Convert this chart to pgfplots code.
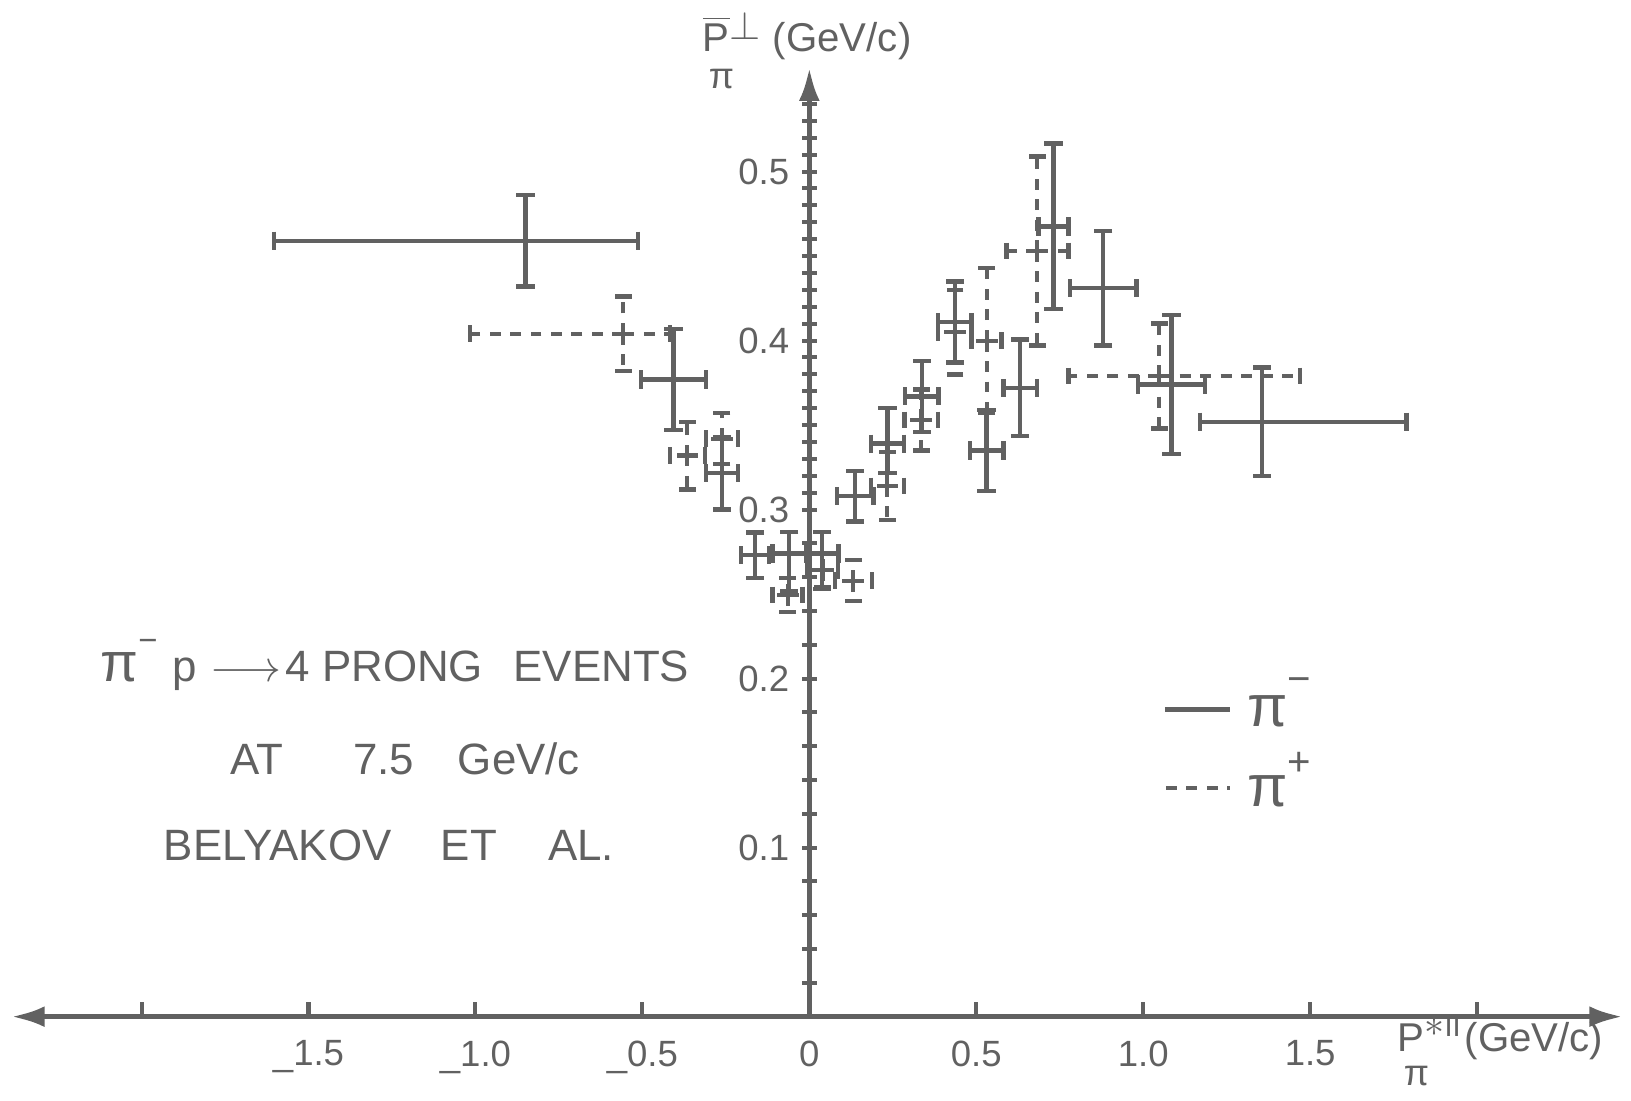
\documentclass[border=0pt]{standalone}
\usepackage{fontspec}
\setmainfont{Liberation Sans}
\usepackage{pgfplots}
\pgfplotsset{compat=1.18}
\usepackage{pgfplotstable}
\usetikzlibrary{arrows.meta}
\definecolor{ink}{gray}{0.38}

% pi^- (solid crosses)
\pgfplotstableread{
x      y      xm     xp     ym     yp
-0.850 0.459  0.754  0.336  0.027  0.027
-0.407 0.377  0.097  0.097  0.030  0.030
-0.262 0.3215 0.048  0.048  0.0215 0.0215
-0.163 0.273  0.042  0.042  0.0135 0.0135
-0.060 0.274  0.050  0.050  0.0225 0.0126
 0.037 0.274  0.045  0.050  0.0211 0.0126
 0.137 0.308  0.055  0.055  0.015  0.015
 0.234 0.339  0.050  0.050  0.0175 0.021
 0.337 0.367  0.050  0.050  0.021  0.021
 0.436 0.411  0.050  0.050  0.024  0.024
 0.531 0.335  0.050  0.050  0.024  0.024
 0.631 0.372  0.050  0.050  0.0286 0.0286
 0.731 0.4675 0.045  0.045  0.049  0.049
 0.880 0.431  0.100  0.100  0.034  0.034
 1.085 0.374  0.100  0.100  0.041  0.041
 1.355 0.352  0.185  0.434  0.032  0.032
}\pineg

% pi^+ (dashed crosses)
\pgfplotstableread{
x      y      xm     xp     ym     yp
-0.557 0.404  0.460  0.140  0.022  0.022
-0.365 0.332  0.053  0.053  0.020  0.020
-0.262 0.342  0.048  0.048  0.015  0.015
-0.065 0.2495 0.045  0.045  0.010  0.010
 0.040 0.264  0.045  0.045  0.010  0.010
 0.132 0.258  0.055  0.055  0.012  0.012
 0.234 0.314  0.050  0.050  0.020  0.020
 0.335 0.353  0.050  0.050  0.018  0.018
 0.436 0.405  0.050  0.050  0.025  0.025
 0.531 0.400  0.045  0.045  0.043  0.043
 0.683 0.453  0.092  0.093  0.056  0.056
 1.048 0.379  0.272  0.421  0.031  0.031
}\pipos

\pgfplotsset{
  capv/.style={ink, only marks, mark=|, mark size=2.5pt, mark options={line width=1.2pt, solid}},
  caph/.style={ink, only marks, mark=-, mark size=2.5pt, mark options={line width=1.2pt, solid}},
}

\begin{document}
\begin{tikzpicture}
\begin{axis}[
  x=3.21cm, y=16.25cm,
  xmin=-2.39, xmax=2.436, ymin=0, ymax=0.5615,
  axis lines=middle,
  clip=false,
  axis line style={draw=ink, line width=1.4pt},
  x axis line style={{Latex[length=0.32cm,width=0.2cm]}-{Latex[length=0.32cm,width=0.2cm]}},
  y axis line style={-{Latex[length=0.32cm,width=0.2cm]}},
  xtick={-2,-1.5,-1,-0.5,0,0.5,1,1.5,2},
  xticklabels={,\_1.5,\_1.0,\_0.5,0,0.5,1.0,1.5,},
  ytick={0.1,0.2,0.3,0.4,0.5},
  yticklabels={0.1,0.2,0.3,0.4,0.5},
  minor ytick={0.02,0.04,0.06,0.08,0.12,0.14,0.16,0.18,0.22,0.24,0.26,0.28,
    0.31,0.32,0.33,0.34,0.35,0.36,0.37,0.38,0.39,
    0.41,0.42,0.43,0.44,0.45,0.46,0.47,0.48,0.49,
    0.51,0.52,0.53,0.54},
  hide obscured x ticks=false,
  hide obscured y ticks=false,
  xtick align=inside,
  ytick align=center,
  major tick length=0.14cm,
  minor tick length=0.14cm,
  tick style={draw=ink, line width=1.1pt},
  xticklabel style={font=\fontsize{10}{10}\selectfont, text=ink, yshift=-3pt},
  yticklabel style={font=\fontsize{10}{10}\selectfont, text=ink},
]
% bounding box of the page
\path (axis cs:-2.424,-0.0495) rectangle (axis cs:2.461,0.6015);

% pi^- solid error crosses
\addplot[ink, only marks, mark=*, mark size=0pt,
  error bars/.cd, x dir=both, x explicit, y dir=both, y explicit,
  error bar style={draw=ink, line width=1.2pt, solid},
  error mark=none]
  table[x=x, y=y, x error minus=xm, x error plus=xp, y error minus=ym, y error plus=yp] {\pineg};
% end caps
\addplot[capv] table[x expr=\thisrow{x}-\thisrow{xm}, y=y] {\pineg};
\addplot[capv] table[x expr=\thisrow{x}+\thisrow{xp}, y=y] {\pineg};
\addplot[caph] table[x=x, y expr=\thisrow{y}-\thisrow{ym}] {\pineg};
\addplot[caph] table[x=x, y expr=\thisrow{y}+\thisrow{yp}] {\pineg};

% pi^+ dashed error crosses
\addplot[ink, only marks, mark=*, mark size=0pt,
  error bars/.cd, x dir=both, x explicit, y dir=both, y explicit,
  error bar style={draw=ink, line width=1.1pt, dash pattern=on 3pt off 2.6pt},
  error mark=none]
  table[x=x, y=y, x error minus=xm, x error plus=xp, y error minus=ym, y error plus=yp] {\pipos};
\addplot[capv, mark size=2.3pt] table[x expr=\thisrow{x}-\thisrow{xm}, y=y] {\pipos};
\addplot[capv, mark size=2.3pt] table[x expr=\thisrow{x}+\thisrow{xp}, y=y] {\pipos};
\addplot[caph, mark size=2.3pt] table[x=x, y expr=\thisrow{y}-\thisrow{ym}] {\pipos};
\addplot[caph, mark size=2.3pt] table[x=x, y expr=\thisrow{y}+\thisrow{yp}] {\pipos};

% legend lines
\addplot[ink, line width=1.2pt] coordinates {(1.065,0.1818) (1.259,0.1818)};
\addplot[ink, line width=1.1pt, dash pattern=on 3pt off 2.6pt] coordinates {(1.068,0.1354) (1.259,0.1354)};

% legend labels
\node[anchor=west, inner sep=0, text=ink] at (axis cs:1.31,0.186)
  {\fontsize{16}{16}\selectfont π\raisebox{1.1ex}{\fontsize{11}{11}\selectfont −}};
\node[anchor=west, inner sep=0, text=ink] at (axis cs:1.31,0.140)
  {\fontsize{16}{16}\selectfont π\raisebox{1.0ex}{\fontsize{11}{11}\selectfont +}};

% axis labels
\node[anchor=base west, inner sep=0, text=ink] at (axis cs:-0.321,0.571)
  {\fontsize{11}{11}\selectfont \rlap{\raisebox{-1.75ex}{\fontsize{10}{10}\selectfont\,π}}$\overline{\mbox{P}}$\raisebox{0.55ex}{$\perp$}\hspace{0.3em}(GeV/c)};
\node[anchor=base west, inner sep=0, text=ink] at (axis cs:1.760,-0.0205)
  {\fontsize{11}{11}\selectfont \rlap{\raisebox{-1.6ex}{\fontsize{10}{10}\selectfont\,π}}P\raisebox{0.7ex}{$*$}\raisebox{0.7ex}{\fontsize{8}{8}\selectfont II}\hspace{0.1em}(GeV/c)};

% reaction text
\node[anchor=base west, inner sep=0, text=ink] at (axis cs:-2.125,0.1985)
  {\fontsize{12}{12}\selectfont {\fontsize{15}{15}\selectfont π}\raisebox{1.3ex}{\fontsize{9}{9}\selectfont −}\hspace{0.35em}p\hspace{0.3em}$\longrightarrow$\hspace{0.1em}4 PRONG\hspace{0.7em}EVENTS};
\node[anchor=base west, inner sep=0, text=ink] at (axis cs:-1.735,0.143)
  {\fontsize{12}{12}\selectfont AT\hspace{19pt}7.5\hspace{12pt}GeV/c};
\node[anchor=base west, inner sep=0, text=ink] at (axis cs:-1.935,0.0926)
  {\fontsize{12}{12}\selectfont BELYAKOV\hspace{13.5pt}ET\hspace{14pt}AL.};
\end{axis}
\end{tikzpicture}
\end{document}
